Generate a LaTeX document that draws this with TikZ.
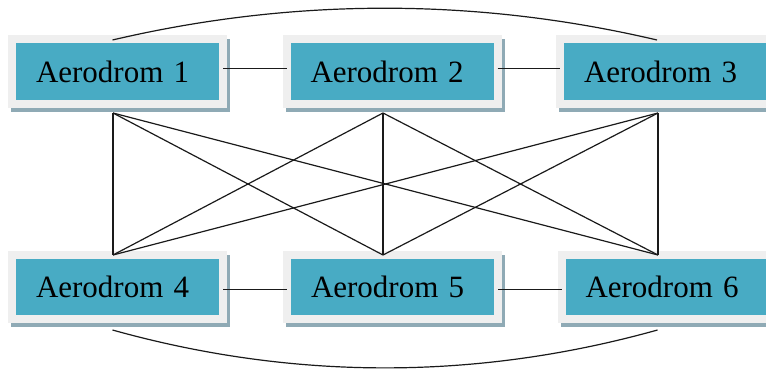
\documentclass[tikz,border=0pt]{standalone}
\usepackage{fontspec}
\setmainfont{Liberation Serif}
\usetikzlibrary{backgrounds,calc}
\definecolor{boxblue}{HTML}{48ABC4}
\definecolor{framegray}{HTML}{EFEFEF}
\definecolor{shadowc}{HTML}{8FAAB5}
\definecolor{edgec}{HTML}{1A1A1A}
\begin{document}
\begin{tikzpicture}[x=1pt,y=-1pt,
  aero/.style={rectangle, fill=boxblue, draw=framegray, line width=8pt, outer sep=4pt,
    minimum height=64pt, inner xsep=24pt, inner ysep=0pt, text width=163pt, align=left,
    font=\fontsize{31}{36}\selectfont, text=black},
  link/.style={draw=edgec, line width=1.2pt},
  shadowbox/.style={fill=shadowc}]
\useasboundingbox (0,0) rectangle (766,369);
\node[aero] (a1) at (117.5,71.5) {Aerodrom 1};
\node[aero] (a2) at (392,71.5) {Aerodrom 2};
\node[aero] (a3) at (665.5,71.5) {Aerodrom 3};
\node[aero] (a4) at (117.5,287) {Aerodrom 4};
\node[aero] (a5) at (392.5,287) {Aerodrom 5};
\node[aero] (a6) at (667,287) {Aerodrom 6};
\begin{pgfonlayer}{background}
\foreach \n in {a1,a2,a3,a4,a5,a6}
  \fill[shadowbox] ([shift={(3pt,-4pt)}]\n.south west) rectangle ([shift={(3pt,-4pt)}]\n.north east);
\end{pgfonlayer}
% horizontal links
\draw[link] ([xshift=-4pt,yshift=3pt]a1.east) -- ([xshift=4pt,yshift=3pt]a2.west);
\draw[link] ([xshift=-4pt,yshift=3pt]a2.east) -- ([xshift=4pt,yshift=3pt]a3.west);
\draw[link] ([xshift=-4pt,yshift=-2.5pt]a4.east) -- ([xshift=4pt,yshift=-2.5pt]a5.west);
\draw[link] ([xshift=-4pt,yshift=-2.5pt]a5.east) -- ([xshift=4pt,yshift=-2.5pt]a6.west);
% arcs
\draw[link] ([xshift=-5pt,yshift=-4.5pt]a1.north) to[bend left=13.2, looseness=0.874] ([xshift=-8.5pt,yshift=-4.5pt]a3.north);
\draw[link] ([xshift=-5pt,yshift=-7pt]a4.south) to[bend right=15.6, looseness=0.884] ([xshift=-9.5pt,yshift=-7pt]a6.south);
% complete bipartite links
\foreach \t/\ts in {a1/-4.5, a2/-9, a3/-7.5}
  \foreach \b/\bs in {a4/-4.5, a5/-9.5, a6/-9}
    \draw[link] ([xshift=\ts pt,yshift=-5.5pt]\t.south) -- ([xshift=\bs pt,yshift=-4pt]\b.north);
\end{tikzpicture}
\end{document}
